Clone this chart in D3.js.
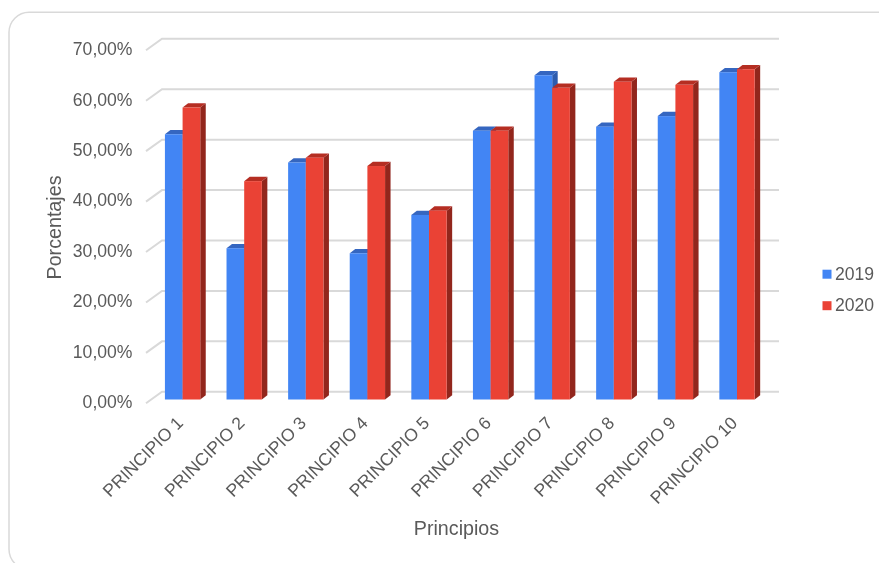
<!DOCTYPE html>
<html><head><meta charset="utf-8">
<script src="https://cdnjs.cloudflare.com/ajax/libs/d3/7.8.5/d3.min.js"></script>
<style>html,body{margin:0;padding:0;background:#fff;overflow:hidden}svg{display:block}text{font-family:"Liberation Sans",Arial,sans-serif;fill:#5a5a5a}</style>
</head><body><svg id="c" width="879" height="563"></svg>
<script>
const categories=["PRINCIPIO 1","PRINCIPIO 2","PRINCIPIO 3","PRINCIPIO 4","PRINCIPIO 5","PRINCIPIO 6","PRINCIPIO 7","PRINCIPIO 8","PRINCIPIO 9","PRINCIPIO 10"];
const values2019=[52.6,30.0,47.0,29.0,36.6,53.3,64.3,54.1,56.2,64.9];
const values2020=[57.9,43.3,47.95,46.3,37.45,53.3,61.8,63.0,62.4,65.5];
const seriesNames=["2019","2020"];
const tickValues=[0,10,20,30,40,50,60,70];
const colors={front:["#4285f4","#ea4335"],top:["#3566c0","#b52d24"],side:["#2f5cae","#92271f"]};
const fmt=v=>v.toFixed(2).replace(".",",")+"%";

const svg=d3.select("#c");
const defs=svg.append("defs");
defs.append("filter").attr("id","soft").attr("x","-5%").attr("y","-5%").attr("width","110%").attr("height","110%")
  .append("feGaussianBlur").attr("stdDeviation",0.45);
const root=svg.append("g").attr("filter","url(#soft)");
root.append("rect").attr("x",9).attr("y",12.3).attr("width",920).attr("height",557).attr("rx",20)
  .attr("fill","#fff").attr("stroke","#d9d9d9").attr("stroke-width",1.5);

const depth=5.5, lift=4.3;
const y=d3.scaleLinear().domain([0,70]).range([399.5,46.5]);
const x=d3.scaleBand().domain(categories).range([152.6,767.0]).paddingInner(0.4265).paddingOuter(0.2);
const sub=d3.scaleBand().domain(seriesNames).range([0,x.bandwidth()]);

// gridlines
const gx0=146, gx1=162, gxEnd=779;
const grid=root.append("g");
tickValues.forEach(t=>{
  const yf=y(t)+3.8, yb=y(t)-7.7;
  grid.append("path").attr("d",`M${gx0},${yf}L${gx1},${yb}L${gxEnd},${yb}`)
    .attr("fill","none").attr("stroke","#d9d9d9").attr("stroke-width",2);
  root.append("text").attr("x",132.5).attr("y",y(t)+8.6).attr("text-anchor","end").attr("font-size",17.6).text(fmt(t));
});

// bars
const bars=root.append("g");
categories.forEach((c,i)=>{
  [values2019[i],values2020[i]].forEach((v,s)=>{
    const x0=x(c)+sub(seriesNames[s]), w=sub.bandwidth(), t=y(v), b=y(0);
    bars.append("path").attr("fill",colors.side[s])
      .attr("d",`M${x0+w},${t}L${x0+w+depth},${t-lift}L${x0+w+depth},${b-lift}L${x0+w},${b}Z`);
    bars.append("path").attr("fill",colors.top[s])
      .attr("d",`M${x0},${t}L${x0+depth},${t-lift}L${x0+w+depth},${t-lift}L${x0+w},${t}Z`);
    bars.append("rect").attr("x",x0).attr("y",t).attr("width",w).attr("height",b-t).attr("fill",colors.front[s]);
  });
});

// category labels
categories.forEach(c=>{
  const px=x(c)+x.bandwidth()/2+1.5, py=424;
  root.append("text").attr("transform",`translate(${px},${py}) rotate(-45)`)
    .attr("text-anchor","end").attr("font-size",17.6).text(c);
});

// titles
root.append("text").attr("x",456.5).attr("y",535).attr("text-anchor","middle").attr("font-size",19.7).text("Principios");
root.append("text").attr("transform","translate(60.7,227.5) rotate(-90)").attr("text-anchor","middle").attr("font-size",19.7).text("Porcentajes");

// legend
seriesNames.forEach((n,i)=>{
  const ly=269.7+i*31.5;
  root.append("rect").attr("x",822.5).attr("y",ly).attr("width",9).attr("height",9).attr("fill",colors.front[i]);
  root.append("text").attr("x",835).attr("y",ly+10).attr("font-size",17.6).text(n);
});
</script></body></html>
